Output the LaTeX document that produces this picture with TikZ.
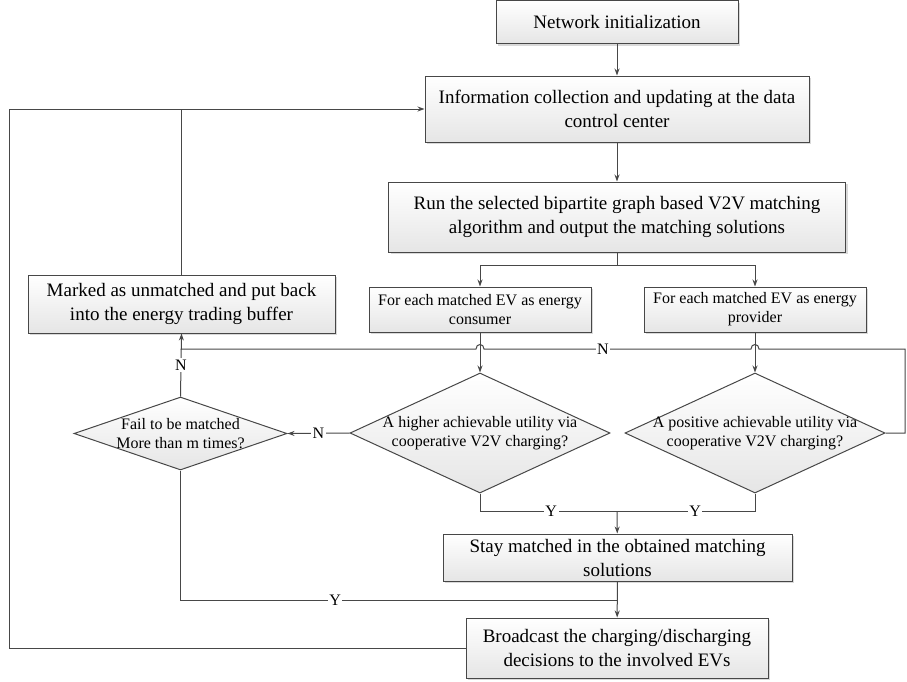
\documentclass[tikz,border=0pt]{standalone}
\usepackage{fontspec}
\setmainfont{Liberation Serif}
\usetikzlibrary{shapes.geometric,arrows.meta,shadows}
\begin{document}
\begin{tikzpicture}[x=1pt,y=-1pt,
  line/.style={draw=black!72, line width=1pt},
  arr/.style={line, -{Stealth[length=7pt,width=5pt]}},
  box/.style={draw=black!72, line width=1pt, top color=white, bottom color=black!10,
    drop shadow={shadow xshift=2pt,shadow yshift=-2pt,fill=black!25,opacity=0.6},
    align=center, inner sep=0pt, font=\fontsize{19}{24}\selectfont},
  sbox/.style={box, font=\fontsize{16}{19}\selectfont},
  dia/.style={diamond, draw=black!72, line width=1pt, top color=white, bottom color=black!10, inner sep=0pt},
  dtext/.style={align=center, font=\fontsize{16}{19.5}\selectfont, inner sep=0pt},
  lab/.style={fill=white, inner sep=1.5pt, font=\fontsize{16}{16}\selectfont}
]
\useasboundingbox (0,0) rectangle (907,681);

\node[box, minimum width=242pt, minimum height=43pt] (net) at (617,22) {Network initialization};
\node[box, minimum width=384pt, minimum height=66pt] (info) at (617,109) {Information collection and updating at the data\\control center};
\node[box, minimum width=457pt, minimum height=70pt] (run) at (617,217) {Run the selected bipartite graph based V2V matching\\algorithm and output the matching solutions};
\node[sbox, minimum width=222pt, minimum height=45pt] (cons) at (480,309.5) {For each matched EV as energy\\consumer};
\node[sbox, minimum width=222pt, minimum height=45pt] (prov) at (755,309.5) {For each matched EV as energy\\provider};
\node[box, minimum width=307pt, minimum height=58pt] (mark) at (181.5,304) {Marked as unmatched and put back\\into the energy trading buffer};

\node[dia, minimum width=260pt, minimum height=120pt] (dmid) at (480,433) {};
\node[dtext] at (dmid) {A higher achievable utility via\\cooperative V2V charging?};
\node[dia, minimum width=260pt, minimum height=120pt] (dright) at (755,433) {};
\node[dtext] at (dright) {A positive achievable utility via\\cooperative V2V charging?};
\node[dia, minimum width=213pt, minimum height=73pt] (dleft) at (180.5,433.5) {};
\node[dtext] at (dleft) {Fail to be matched\\More than m times?};

\node[box, minimum width=349pt, minimum height=47pt] (stay) at (617.5,557.5) {Stay matched in the obtained matching\\solutions};
\node[box, minimum width=302pt, minimum height=60pt] (broad) at (617,648) {Broadcast the charging/discharging\\decisions to the involved EVs};

% main column
\draw[arr] (net) -- (info);
\draw[arr] (info) -- (run);
\coordinate (split) at (617,265);
\draw[line] (run.south) -- (split);
\draw[arr] (split) -| (cons.north);
\draw[arr] (split) -| (prov.north);
\draw[arr] (cons) -- (dmid);
\draw[arr] (prov) -- (dright);
\draw[arr] (dmid.west) -- node[lab]{N} (dleft.east);

% Y merges
\coordinate (ymerge) at (617,511);
\draw[line] (dmid.south) |- node[lab, pos=0.76]{Y} (ymerge);
\draw[line] (dright.south) |- node[lab, pos=0.717]{Y} (ymerge);
\draw[arr] (ymerge) -- (stay);
\draw[arr] (stay) -- (broad);
\coordinate (ymerge2) at (617,600);
\draw[line] (dleft.south) |- node[lab, pos=0.677]{Y} (ymerge2);

% loop back
\coordinate (lb) at (9,648);
\coordinate (lt) at (9,109);
\draw[arr] (broad.west) -- (lb) -- (lt) -- (info.west);
\draw[line] (mark.north) -- (mark.north |- info.west);

% N loop from right diamond
\coordinate (rr) at (905,433);
\coordinate (rt) at (905,349);
\coordinate (nend) at (180.5,349);
\draw[line] (dright.east) -- (rr) -- (rt) -- (759,349)
  .. controls (759,343) and (751,343) .. (751,349) -- (484,349)
  .. controls (484,343) and (476,343) .. (476,349) -- (nend);
\node[lab] at (603,349) {N};
\draw[arr] (dleft.north) -- node[lab]{N} (mark.south);
\end{tikzpicture}
\end{document}
